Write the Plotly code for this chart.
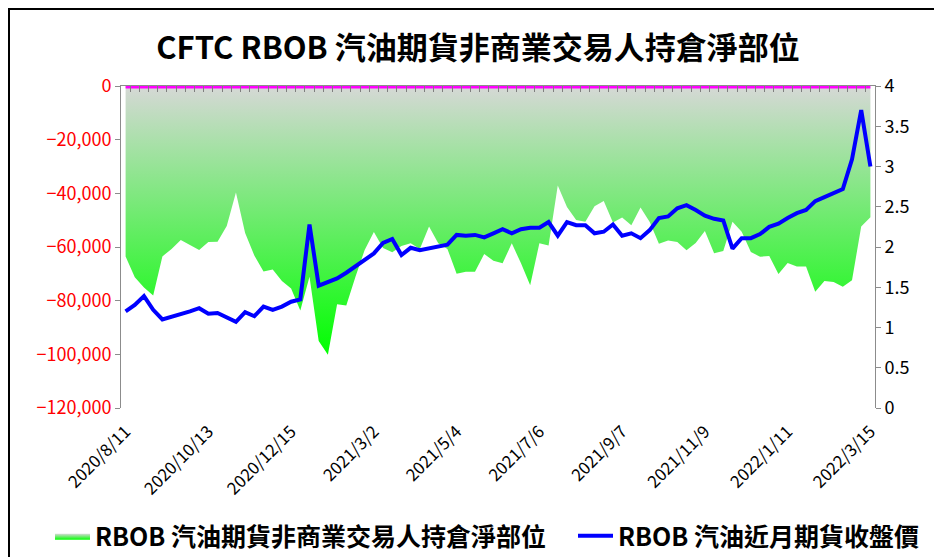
import pandas as pd
import plotly.graph_objects as go

# ---- data ----
_all_weeks = pd.date_range("2020-08-11", "2022-03-15", freq="7D")
_skip = {pd.Timestamp("2020-12-29"), pd.Timestamp("2021-01-05")}
dates = [f"{d.year}/{d.month}/{d.day}" for d in _all_weeks if d not in _skip]

net_position = [
    -63500, -71300, -75100, -78100, -63500, -60700, -57400, -59100, -61100, -58100,
    -58000, -52200, -39700, -54800, -63200, -69100, -68400, -72700, -75500, -83700,
    -71100, -95000, -100200, -81300, -81800, -71100, -61100, -54400, -60400, -62000,
    -59600, -58600, -60700, -52400, -58600, -60700, -70000, -69200, -69200, -62600,
    -65100, -66100, -58600, -66100, -74300, -58600, -59400, -37100, -45100, -49900,
    -50600, -44800, -42900, -50900, -49000, -51900, -45300, -50700, -58800, -57600,
    -58100, -61200, -58500, -54000, -62300, -61500, -50600, -54300, -61900, -63600,
    -63400, -70100, -66000, -67300, -67300, -76700, -72700, -73000, -74800, -72400,
    -52400, -48900,
]

rbob_price = [
    1.20, 1.28, 1.39, 1.22, 1.10, 1.13, 1.17, 1.20, 1.24, 1.17,
    1.18, 1.13, 1.07, 1.19, 1.14, 1.26, 1.22, 1.26, 1.32, 1.35,
    2.28, 1.52, 1.57, 1.61, 1.68, 1.76, 1.85, 1.92, 2.05, 2.10,
    1.90, 1.99, 1.96, 1.98, 2.01, 2.03, 2.15, 2.14, 2.15, 2.12,
    2.17, 2.22, 2.17, 2.22, 2.24, 2.24, 2.31, 2.14, 2.31, 2.27,
    2.27, 2.17, 2.19, 2.28, 2.14, 2.17, 2.11, 2.21, 2.36, 2.38,
    2.48, 2.52, 2.46, 2.39, 2.35, 2.33, 1.98, 2.11, 2.11, 2.16,
    2.25, 2.29, 2.36, 2.42, 2.46, 2.57, 2.62, 2.67, 2.72, 3.09,
    3.70, 3.00,
]

zero_line = [0] * len(dates)
x_tick_labels = dates[::9]

name_pos = "RBOB 汽油期貨非商業交易人持倉淨部位"
name_price = "RBOB 汽油近月期貨收盤價"
title_text = "CFTC RBOB 汽油期貨非商業交易人持倉淨部位"

FONT = "Noto Sans CJK TC, Noto Sans, sans-serif"

# page body has an 8px margin: figure coords = window coords - 8
OFF = 8
W, H = 942 - OFF, 557 - OFF
PL, PR, PT, PB = 121, 875, 86, 408          # plot area in window pixels
L, T = PL - OFF, PT - OFF
R, B = W - (PR - OFF), H - (PB - OFF)
PW, PH = PR - PL, PB - PT


def px_x(wx):
    return (wx - PL) / PW


def px_y(wy):
    return (PB - wy) / PH


fig = go.Figure()

# zero line (border of the area)
fig.add_trace(go.Scatter(
    x=dates, y=zero_line, mode="lines",
    line=dict(color="#ff00ff", width=5),
    showlegend=False, hoverinfo="skip", legendgroup="pos",
))
# net position area
fig.add_trace(go.Scatter(
    x=dates, y=net_position, mode="lines", name=name_pos,
    line=dict(width=0, color="rgba(0,0,0,0)"),
    fill="tonexty",
    fillgradient=dict(
        type="vertical",
        colorscale=[[0, "rgb(0,255,0)"], [1, "rgb(214,216,214)"]],
        start=-100500, stop=0,
    ),
    legendgroup="pos", legend="legend",
))
# price line
fig.add_trace(go.Scatter(
    x=dates, y=rbob_price, mode="lines", name=name_price,
    line=dict(color="#0000ff", width=4),
    yaxis="y2", legend="legend2",
))
# helper trace for the top category tick axis
fig.add_trace(go.Scatter(
    x=[-0.5, len(dates) - 0.5], y=[0, 0], mode="lines",
    line=dict(width=0, color="rgba(0,0,0,0)"),
    xaxis="x2", showlegend=False, hoverinfo="skip",
))

legend_common = dict(
    orientation="h", xanchor="left", yanchor="middle",
    font=dict(family=FONT, size=25, color="black", weight="bold"),
    itemwidth=35, bgcolor="rgba(0,0,0,0)",
)

fig.update_layout(
    width=W, height=H,
    margin=dict(l=L, r=R, t=T, b=B, autoexpand=False),
    paper_bgcolor="white", plot_bgcolor="white",
    font=dict(family=FONT, color="black"),
    title=dict(
        text=title_text, x=(478 - OFF) / W, xanchor="center",
        y=1 - (48 - OFF) / H, yanchor="middle",
        font=dict(family=FONT, size=31, color="black", weight="bold"),
    ),
    xaxis=dict(
        type="category", range=[-0.5, len(dates) - 0.5], automargin=False,
        tickmode="array", tickvals=x_tick_labels, ticktext=x_tick_labels,
        tickangle=-45, showline=False, showgrid=False, zeroline=False,
        ticks="outside", ticklen=6, tickcolor="rgba(0,0,0,0)",
        tickfont=dict(family=FONT, size=17, color="black"),
    ),
    xaxis2=dict(
        overlaying="x", side="top", anchor="y", automargin=False,
        range=[-0.5, len(dates) - 0.5], tick0=-0.5, dtick=1,
        showticklabels=False, showgrid=False, zeroline=False,
        showline=True, linecolor="#8c8c8c", linewidth=1,
        ticks="inside", ticklen=6, tickcolor="#7f7f7f", tickwidth=1,
        layer="above traces",
    ),
    yaxis=dict(
        range=[-120000, 0], dtick=20000, tickformat=",", automargin=False,
        showline=True, linecolor="#8c8c8c", linewidth=1,
        ticks="outside", ticklen=5, tickcolor="#8c8c8c",
        showgrid=False, zeroline=False,
        tickfont=dict(family=FONT, size=18, color="#ff0000"),
    ),
    yaxis2=dict(
        range=[0, 4], dtick=0.5, overlaying="y", side="right", automargin=False,
        showline=True, linecolor="#8c8c8c", linewidth=1,
        ticks="outside", ticklen=5, tickcolor="#8c8c8c",
        showgrid=False, zeroline=False,
        tickfont=dict(family=FONT, size=18, color="black"),
    ),
    legend=dict(x=px_x(50), y=px_y(536), **legend_common),
    legend2=dict(x=px_x(573), y=px_y(536), **legend_common),
    shapes=[dict(
        type="rect", xref="paper", yref="paper",
        x0=px_x(9), x1=px_x(940), y0=px_y(580), y1=px_y(9),
        line=dict(color="black", width=2), fillcolor="rgba(0,0,0,0)",
        layer="above",
    )],
)

fig.write_html("out.html")
